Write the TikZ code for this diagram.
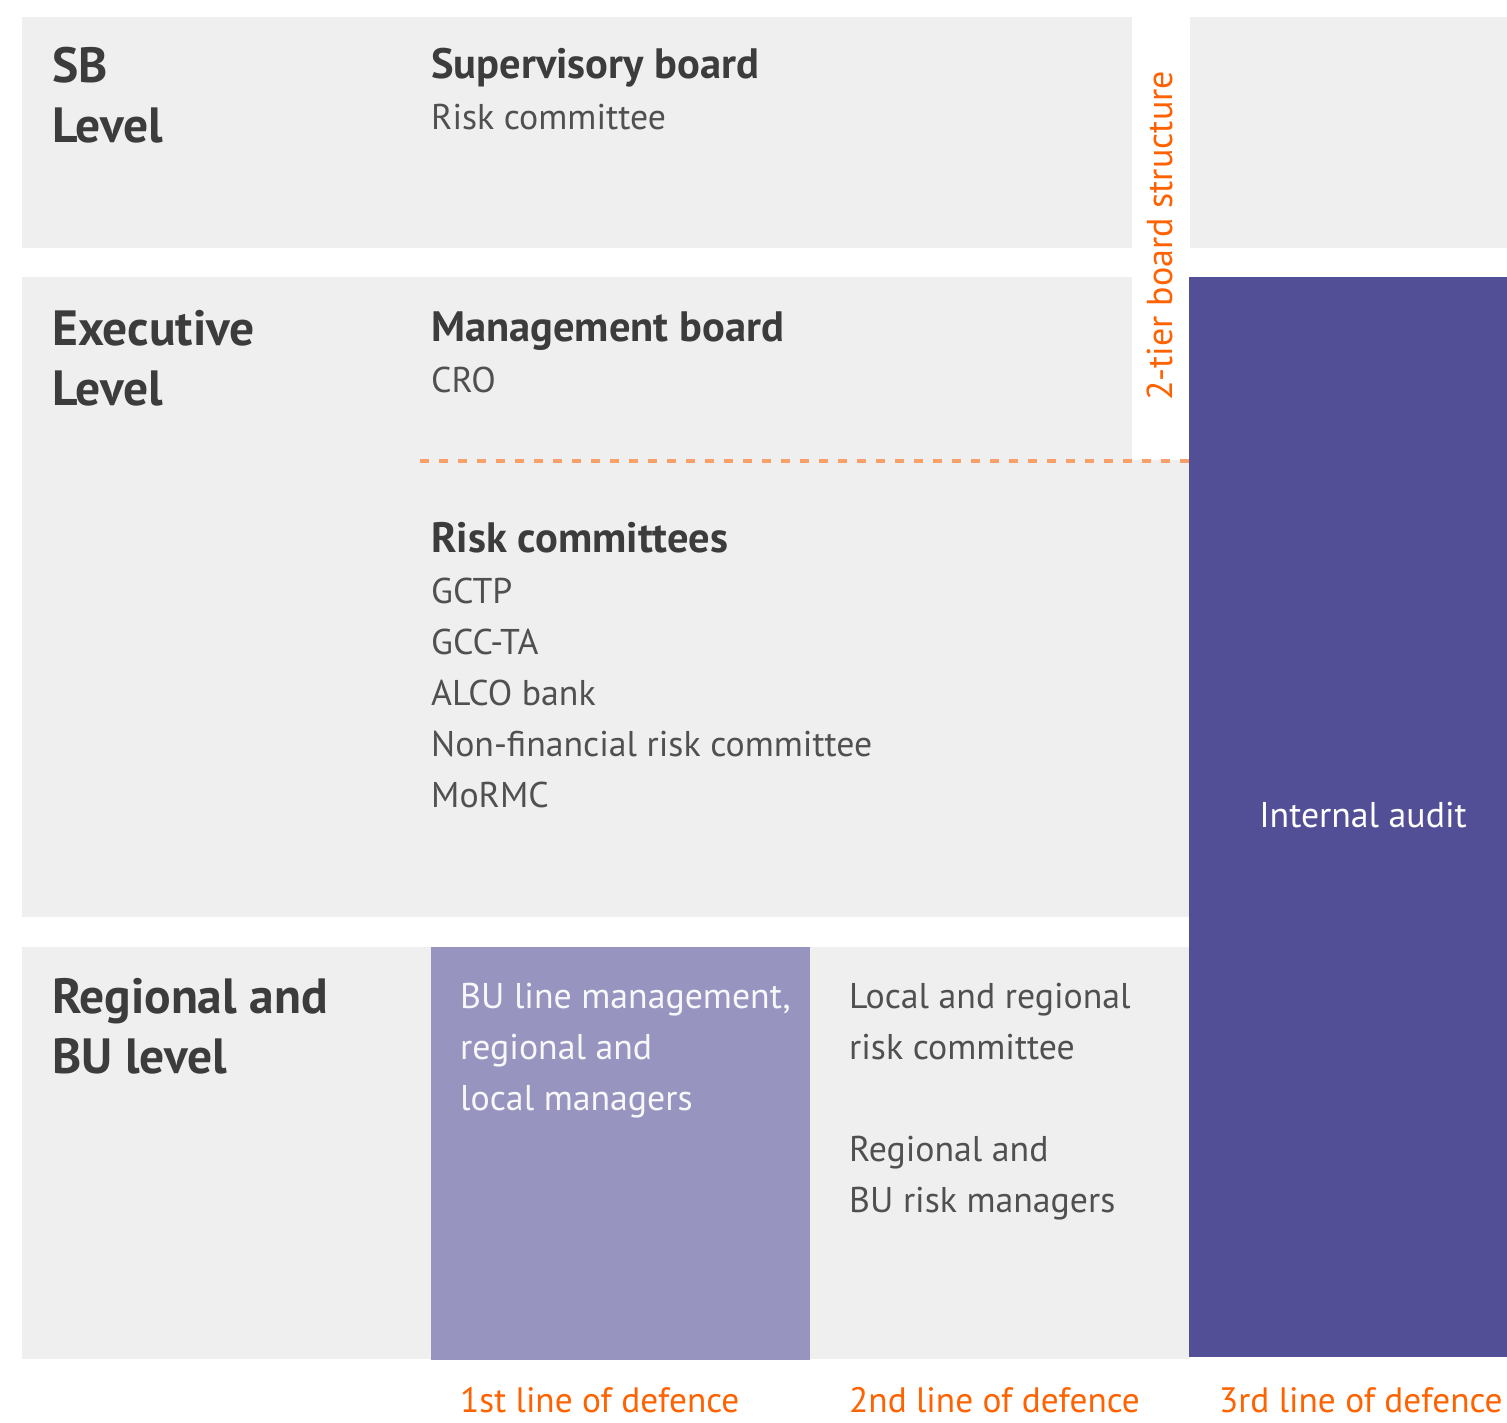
\documentclass[tikz,border=0pt]{standalone}
\usepackage{fontspec}
\setmainfont{PT Sans}
\definecolor{bandgray}{HTML}{EFEFEF}
\definecolor{txtgray}{HTML}{3C3C3C}
\definecolor{auditpurple}{HTML}{534F97}
\definecolor{bupurple}{HTML}{9795C0}
\definecolor{ingorange}{HTML}{FF6200}
\definecolor{dashorange}{HTML}{F9A068}
\tikzset{
  band/.style={fill=bandgray, draw=none},
  lvl/.style={anchor=base west, inner sep=0pt, text=txtgray, font=\fontsize{49.5}{49.5}\selectfont\bfseries},
  head/.style={anchor=base west, inner sep=0pt, text=txtgray, font=\fontsize{42.5}{42.5}\selectfont\bfseries},
  item/.style={anchor=base west, inner sep=0pt, text=txtgray!90, font=\fontsize{35.8}{35.8}\selectfont},
  wtxt/.style={anchor=base west, inner sep=0pt, text=white!93!bupurple, font=\fontsize{35.8}{35.8}\selectfont},
  otxt/.style={anchor=base west, inner sep=0pt, text=ingorange, font=\fontsize{35.3}{35.3}\selectfont},
}
\begin{document}
\begin{tikzpicture}[x=1pt,y=-1pt]
\useasboundingbox (0,0) rectangle (1507,1422);
% bands
\fill[band] (22,17) rectangle (1132,248);
\fill[band] (1190,17) rectangle (1507,248);
\fill[band] (22,277) rectangle (1190,917);
\fill[white] (1132,0) rectangle (1189,460);
\fill[band] (22,947) rectangle (1190,1359);
% boxes
\node[fill=bupurple, inner sep=0pt, minimum width=379pt, minimum height=413pt, anchor=north west] (bu) at (431,947) {};
\node[fill=auditpurple, inner sep=0pt, minimum width=318pt, minimum height=1080pt, anchor=north west] (audit) at (1189,277) {};
\node[text=white, font=\fontsize{35.8}{35.8}\selectfont, inner sep=0pt] (auditlbl) at (1363,815) {Internal audit};
% dashed divider
\coordinate (dA) at (420,461);
\coordinate (dB) at (1189,461);
\draw[dashorange, line width=4pt, dash pattern=on 9pt off 10pt] (dA) -- (dB);
% vertical label
\node[otxt, font=\fontsize{36}{36}\selectfont, rotate=90, anchor=base west] (tier) at (1172,401) {2-tier board structure};
% level labels
\node[lvl] (sb1) at (52,82) {SB};
\node[lvl] (sb2) at (52,142) {Level};
\node[lvl] (ex1) at (52,345) {Executive};
\node[lvl] (ex2) at (52,405) {Level};
\node[lvl] (rg1) at (52,1013) {Regional and};
\node[lvl] (rg2) at (52,1073) {BU level};
% SB content
\node[head] (sup) at (431,78) {Supervisory board};
\node[item] (rc) at (431,129) {Risk committee};
% executive content
\node[head] (mb) at (431,341) {Management board};
\node[item] (cro) at (431,392) {CRO};
\node[head] (rcs) at (431,552) {Risk committees};
\node[item] (i1) at (431,603) {GCTP};
\node[item] (i2) at (431,654) {GCC-TA};
\node[item] (i3) at (431,705) {ALCO bank};
\node[item] (i4) at (431,756) {Non-financial risk committee};
\node[item] (i5) at (431,807) {MoRMC};
% regional content
\node[wtxt] (b1) at (460,1008) {BU line management,};
\node[wtxt] (b2) at (460,1059) {regional and};
\node[wtxt] (b3) at (460,1110) {local managers};
\node[item] (l1) at (849,1008) {Local and regional};
\node[item] (l2) at (849,1059) {risk committee};
\node[item] (l3) at (849,1161) {Regional and};
\node[item] (l4) at (849,1212) {BU risk managers};
% bottom labels
\node[otxt] (d1) at (460,1412) {1st line of defence};
\node[otxt] (d2) at (849,1412) {2nd line of defence};
\node[otxt] (d3) at (1219,1412) {3rd line of defence};
\end{tikzpicture}
\end{document}
